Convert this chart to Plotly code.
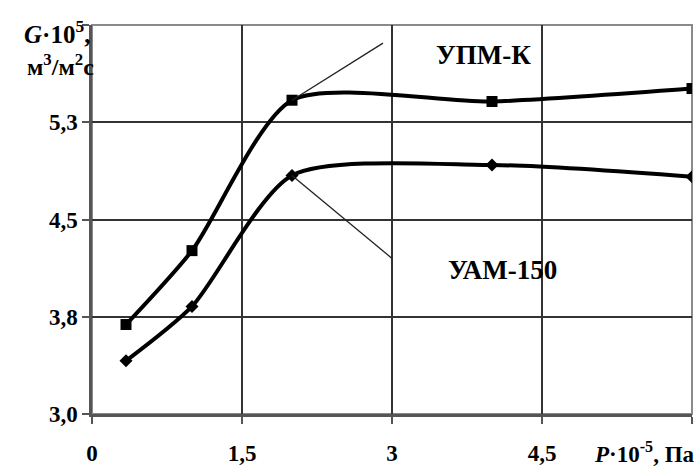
import plotly.graph_objects as go

# Data
p_vals = [0.34, 1.0, 2.0, 4.0, 6.0]
g_upm = [3.69, 4.26, 5.42, 5.41, 5.51]
g_uam = [3.41, 3.83, 4.84, 4.92, 4.83]

x_tickvals = [0, 1.5, 3, 4.5, 6]
x_ticktext = ["0", "1,5", "3", "4,5", " "]
y_tickvals = [3.0, 3.75, 4.5, 5.25, 6.0]
y_ticktext = ["3,0", "3,8", "4,5", "5,3", " "]

label_upm = "УПМ-К"
label_uam = "УАМ-150"
label_upm_pos = (3.91, 5.77)
label_uam_pos = (4.1, 4.11)
leader_upm = ((2.0, 5.42), (2.91, 5.86))
leader_uam = ((2.0, 4.84), (3.0, 4.20))

FONT = "Liberation Serif"

fig = go.Figure()
fig.add_trace(go.Scatter(
    x=p_vals, y=g_upm, mode="lines+markers",
    line=dict(color="black", width=4, shape="spline", smoothing=0.7),
    marker=dict(symbol="square", size=11, color="black"),
    showlegend=False))
fig.add_trace(go.Scatter(
    x=p_vals, y=g_uam, mode="lines+markers",
    line=dict(color="black", width=4, shape="spline", smoothing=0.7),
    marker=dict(symbol="diamond", size=10, color="black"),
    showlegend=False))

for (x0, y0), (x1, y1) in (leader_upm, leader_uam):
    fig.add_shape(type="line", x0=x0, y0=y0, x1=x1, y1=y1,
                  xref="x", yref="y", line=dict(color="#222", width=1.3))

# plot border top/right
fig.add_shape(type="rect", x0=0, y0=0, x1=1, y1=1, xref="paper", yref="paper",
              line=dict(color="#8a8a8a", width=2), layer="below")

fig.add_annotation(x=label_upm_pos[0], y=label_upm_pos[1], text="<b>%s</b>" % label_upm,
                   showarrow=False, font=dict(family=FONT, size=27, color="black"))
fig.add_annotation(x=label_uam_pos[0], y=label_uam_pos[1], text="<b>%s</b>" % label_uam,
                   showarrow=False, font=dict(family=FONT, size=27, color="black"))

fig.add_annotation(xref="paper", yref="paper", x=0.0, y=0.982, xanchor="right", yanchor="middle",
                   text="<b><i>G</i>·10<sup>5</sup>,</b>", showarrow=False,
                   font=dict(family=FONT, size=25, color="black"))
fig.add_annotation(xref="paper", yref="paper", x=0.006, y=0.897, xanchor="right", yanchor="middle",
                   text="<b>м<sup>3</sup>/м<sup>2</sup>с</b>", showarrow=False,
                   font=dict(family=FONT, size=24, color="black"))
fig.add_annotation(xref="paper", yref="paper", x=1.008, y=-0.098, xanchor="right", yanchor="middle",
                   text="<b><i>P</i>·10<sup>-5</sup>, Па</b>", showarrow=False,
                   font=dict(family=FONT, size=23, color="black"))

tickfont = dict(family=FONT, size=23, color="black", weight="bold")
fig.update_xaxes(range=[0, 6], tickvals=x_tickvals, ticktext=x_ticktext,
                 showgrid=True, gridcolor="#333", gridwidth=1.5,
                 showline=True, linecolor="#555", linewidth=2.5,
                 ticks="outside", ticklen=7, tickcolor="#555", tickwidth=2,
                 tickfont=tickfont, zeroline=False, automargin=False,
                 ticklabelstandoff=10)
fig.update_yaxes(range=[3, 6], tickvals=y_tickvals, ticktext=y_ticktext,
                 showgrid=True, gridcolor="#333", gridwidth=1.5,
                 showline=True, linecolor="#555", linewidth=2.5,
                 ticks="outside", ticklen=7, tickcolor="#555", tickwidth=2,
                 tickfont=tickfont, zeroline=False, automargin=False)

fig.update_layout(width=699, height=470, margin=dict(l=92, r=7, t=25, b=56),
                  plot_bgcolor="white", paper_bgcolor="white",
                  font=dict(family=FONT, color="black"))
fig.write_html("out.html", config={"displayModeBar": False},
               post_script="document.body.style.margin='0';")
